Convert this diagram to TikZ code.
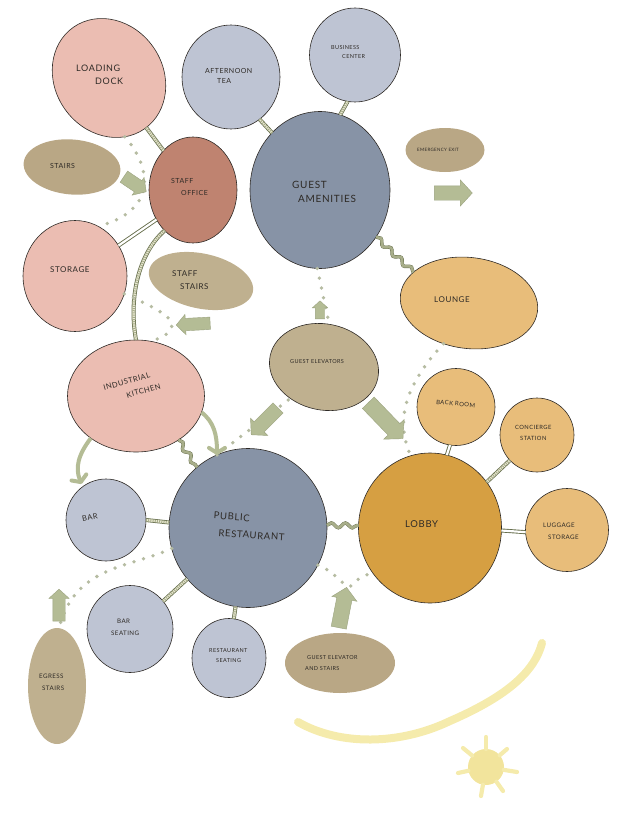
\documentclass[tikz,border=0pt]{standalone}
\usepackage{fontspec}
\usetikzlibrary{shapes.geometric,shapes.arrows,decorations.pathmorphing,arrows.meta}
\newfontfamily\hand{Lato}[LetterSpace=7]
\newcommand{\hf}[2]{\hand\fontsize{#1}{#2}\selectfont}
\definecolor{cpink}{HTML}{EBBDB2}
\definecolor{cstaff}{HTML}{BF8370}
\definecolor{cblue}{HTML}{BEC4D3}
\definecolor{cslate}{HTML}{8793A6}
\definecolor{ctan}{HTML}{BFB08F}
\definecolor{ctandk}{HTML}{B9A785}
\definecolor{corange}{HTML}{E8BD7A}
\definecolor{clobby}{HTML}{D69F42}
\definecolor{carrow}{HTML}{B4BC95}
\definecolor{carrowl}{HTML}{9BA37F}
\definecolor{cdot}{HTML}{B6BCA2}
\definecolor{colive}{HTML}{666E4C}
\definecolor{ccream}{HTML}{ECEBD6}
\definecolor{cwave}{HTML}{A8AE8A}
\definecolor{csun}{HTML}{F5EBAC}
\definecolor{csunc}{HTML}{F2E49C}
\definecolor{cink}{HTML}{2E2A26}
\tikzset{
  blob/.style={ellipse,inner sep=0pt,outer sep=0pt,draw=cink,line width=.6pt},
  plainblob/.style={ellipse,inner sep=0pt,outer sep=0pt},
  lab/.style={inner sep=0pt,anchor=west,align=left,text=cink},
  blockarrow/.style 2 args={single arrow,inner xsep=0pt,inner ysep=#2pt,outer sep=0pt,fill=carrow,draw=carrowl,line width=.4pt,single arrow tip angle=95,single arrow head extend=#1pt},
  curvearrow/.style={draw=carrow,line width=4pt,-{Straight Barb[length=5pt,width=16pt,round]}},
  rail/.style={draw=colive,line width=.9pt,double=white,double distance=2.2pt},
  ladder/.style={draw=colive,line width=4pt,postaction={draw=ccream,line width=2.4pt},postaction={draw=cwave,line width=2.4pt,dash pattern=on 1pt off 1.2pt}},
  wave/.style={draw=colive,line width=.4pt,double=cwave,double distance=2.6pt,decorate,decoration={snake,segment length=14pt,amplitude=2.4pt}},
  dotroute/.style={draw=cdot,line width=3.8pt,line cap=round,dash pattern=on 0pt off 10pt},
  sunpath/.style={draw=csun,line width=8pt,line cap=round},
  sunray/.style={draw=csun,line width=4.2pt,line cap=round},
}
\begin{document}
\begin{tikzpicture}[x=1pt,y=-1pt]
\useasboundingbox (0,0) rectangle (630,840);
% rooms
\node[blob,fill=cpink,minimum width=124pt,minimum height=108pt,rotate=-55] (loading) at (109,78) {};
\node[blob,fill=cblue,minimum width=98pt,minimum height=104pt] (tea) at (231,77) {};
\node[blob,fill=cblue,minimum width=91pt,minimum height=94pt] (business) at (355,55) {};
\node[blob,fill=cslate,minimum width=140pt,minimum height=157pt] (amenities) at (320,190) {};
\node[blob,fill=cstaff,minimum width=88pt,minimum height=106pt] (office) at (193,190) {};
\node[plainblob,fill=ctandk,minimum width=97pt,minimum height=55pt,rotate=-5] (stairs) at (72,167) {};
\node[blob,fill=cpink,minimum width=104pt,minimum height=111pt] (storage) at (75,276) {};
\node[plainblob,fill=ctan,minimum width=106pt,minimum height=55pt,rotate=-12] (staffstairs) at (201,281) {};
\node[blob,fill=cpink,minimum width=137pt,minimum height=112pt] (kitchen) at (136,396) {};
\node[blob,fill=ctan,minimum width=110pt,minimum height=86pt,rotate=-12] (elevators) at (324,367) {};
\node[blob,fill=corange,minimum width=138pt,minimum height=91pt,rotate=-7] (lounge) at (469,303) {};
\node[plainblob,fill=ctandk,minimum width=79pt,minimum height=44pt] (exit) at (445,150) {};
\node[blob,fill=corange,minimum width=78pt,minimum height=77pt] (backroom) at (456,407) {};
\node[blob,fill=corange,minimum width=74pt,minimum height=74pt] (concierge) at (537,435) {};
\node[blob,fill=corange,minimum width=83pt,minimum height=83pt] (luggage) at (567,530) {};
\node[blob,fill=clobby,minimum width=143pt,minimum height=150pt] (lobby) at (430,528) {};
\node[blob,fill=cslate,minimum width=158pt,minimum height=159pt] (restaurant) at (248,528) {};
\node[blob,fill=cblue,minimum width=80pt,minimum height=82pt] (bar) at (106,520) {};
\node[blob,fill=cblue,minimum width=86pt,minimum height=87pt] (barseat) at (130,629) {};
\node[blob,fill=cblue,minimum width=74pt,minimum height=79pt] (restseat) at (229,658) {};
\node[plainblob,fill=ctan,minimum width=58pt,minimum height=116pt] (egress) at (57,686) {};
\node[plainblob,fill=ctandk,minimum width=110pt,minimum height=60pt] (gestairs) at (340,663) {};
% adjacency connectors
\draw[ladder] (loading) -- (office);
\draw[ladder] (tea.-56) -- (amenities.130);
\draw[ladder] (business.-99) -- (amenities.75);
\draw[rail] (office.-141) -- (storage.35);
\draw[ladder] (office.235) .. controls (140,252) and (128,295) .. (kitchen.90);
\draw[ladder] (bar.east) -- (restaurant.176);
\draw[ladder] (barseat.40) -- (restaurant.220);
\draw[ladder] (restseat.83) -- (restaurant.-99);
\draw[rail] (backroom.-99) -- (lobby.77);
\draw[ladder] (concierge.-137) -- (lobby.39);
\draw[rail] (luggage.183) -- (lobby.-2);
\draw[wave] (amenities.-40) -- (lounge.158);
\draw[wave] (kitchen.-46) -- (restaurant.130);
\draw[wave] (restaurant.2) -- (lobby.178);
% dotted routes
\draw[dotroute] (loading.-20) .. controls (150,165) and (160,210) .. (storage.65);
\draw[dotroute] (storage.-20) .. controls (145,303) and (172,315) .. (172,325) .. controls (172,331) and (167,336) .. (kitchen.75);
\draw[dotroute] (amenities.-92) -- (elevators.95);
\draw[dotroute] (lounge.-115) .. controls (405,385) and (395,420) .. (lobby.105);
\draw[dotroute] (restaurant.113) -- (elevators.-125);
\draw[dotroute] (restaurant.-28) .. controls (337,572) and (345,590) .. (351,586) .. controls (356,580) and (362,576) .. (lobby.-142);
\draw[dotroute] (restaurant.-165) .. controls (130,568) and (75,565) .. (egress.88);
% block arrows
\node[blockarrow={4}{6.5},minimum width=21pt,minimum height=27pt,rotate=-34] (a1) at (132.5,182.5) {};
\node[blockarrow={6}{7},minimum width=26pt,minimum height=38pt] (a2) at (450,193) {};
\node[blockarrow={4}{6},minimum width=20pt,minimum height=34pt,rotate=183] (a3) at (196,324) {};
\node[blockarrow={3}{4.5},minimum width=15pt,minimum height=18pt,rotate=90] (a4) at (320,312) {};
\node[blockarrow={5}{7},minimum width=24pt,minimum height=38pt,rotate=225] (a5) at (267,419) {};
\node[blockarrow={6}{8},minimum width=28pt,minimum height=50pt,rotate=-46] (a6) at (383,418) {};
\node[blockarrow={4}{6},minimum width=20pt,minimum height=32pt,rotate=90] (a7) at (59,608) {};
\node[blockarrow={5}{7.5},minimum width=24pt,minimum height=41pt,rotate=79] (a8) at (342,611) {};
\draw[curvearrow] (kitchen.-14) .. controls (214,422) and (217,435) .. (restaurant.113);
\draw[curvearrow,shorten >=3pt] (kitchen.-137) .. controls (78,455) and (75,468) .. (bar.125);
% sun
\draw[sunpath] (298,722) .. controls (340,746) and (400,745) .. (450,721) .. controls (510,695) and (535,670) .. (542,643);
\node[plainblob,fill=csunc,minimum width=36pt,minimum height=36pt] (sun) at (486,767) {};
\coordinate (r1) at (486,737);
\coordinate (r2) at (507,749);
\coordinate (r3) at (517,772);
\coordinate (r4) at (503,791);
\coordinate (r5) at (481,796);
\coordinate (r6) at (458,773);
\coordinate (r7) at (463,748);
\foreach \r in {r1,r2,r3,r4,r5,r6,r7} \draw[sunray] (sun) -- (\r);
% labels
\node[lab,font=\hf{9}{13}] (tLoading) at (76,74.5) {LOADING\\\hspace*{19pt}DOCK};
\node[lab,font=\hf{7}{10}] (tTea) at (205,76) {AFTERNOON\\\hspace*{12pt}TEA};
\node[lab,font=\hf{5.5}{9}] (tBusiness) at (331,52.5) {BUSINESS\\\hspace*{11pt}CENTER};
\node[lab,font=\hf{10}{14}] (tAmenities) at (292,192) {GUEST\\\hspace*{6pt}AMENITIES};
\node[lab,font=\hf{7}{12}] (tOffice) at (171,187) {STAFF\\\hspace*{10pt}OFFICE};
\node[lab,font=\hf{7}{9}] (tStairs) at (50,166) {STAIRS};
\node[lab,font=\hf{8}{10}] (tStorage) at (50,270) {STORAGE};
\node[lab,font=\hf{8}{13}] (tStaffStairs) at (172,280.5) {STAFF\\\hspace*{8pt}STAIRS};
\node[lab,font=\hf{7.5}{13.5},rotate=16,anchor=center] (tKitchen) at (132,387) {INDUSTRIAL\\\hspace*{20pt}KITCHEN};
\node[lab,font=\hf{5.5}{7}] (tElevators) at (290,362) {GUEST ELEVATORS};
\node[lab,font=\hf{8}{10}] (tLounge) at (434,300) {LOUNGE};
\node[lab,font=\hf{4.5}{6}] (tExit) at (417,150) {EMERGENCY EXIT};
\node[lab,font=\hf{6}{8},rotate=-5] (tBack) at (436,402) {BACK ROOM};
\node[lab,font=\hf{5.8}{11}] (tConcierge) at (515,432.5) {CONCIERGE\\\hspace*{5pt}STATION};
\node[lab,font=\hf{6.2}{12}] (tLuggage) at (543,531) {LUGGAGE\\\hspace*{5pt}STORAGE};
\node[lab,font=\hf{9.5}{12}] (tLobby) at (405,524) {LOBBY};
\node[lab,font=\hf{9.5}{17},rotate=-4] (tRestaurant) at (213,524) {PUBLIC\\\hspace*{6pt}RESTAURANT};
\node[lab,font=\hf{7.5}{9},rotate=10] (tBar) at (82,519) {BAR};
\node[lab,font=\hf{6.2}{12}] (tBarseat) at (111,627) {\hspace*{6pt}BAR\\SEATING};
\node[lab,font=\hf{5.5}{10}] (tRestseat) at (209,656) {RESTAURANT\\\hspace*{7pt}SEATING};
\node[lab,font=\hf{6.2}{12}] (tEgress) at (39,682) {EGRESS\\\hspace*{3pt}STAIRS};
\node[lab,font=\hf{5.5}{11}] (tGE) at (305,663.5) {\hspace*{2pt}GUEST ELEVATOR\\AND STAIRS};
\end{tikzpicture}
\end{document}
